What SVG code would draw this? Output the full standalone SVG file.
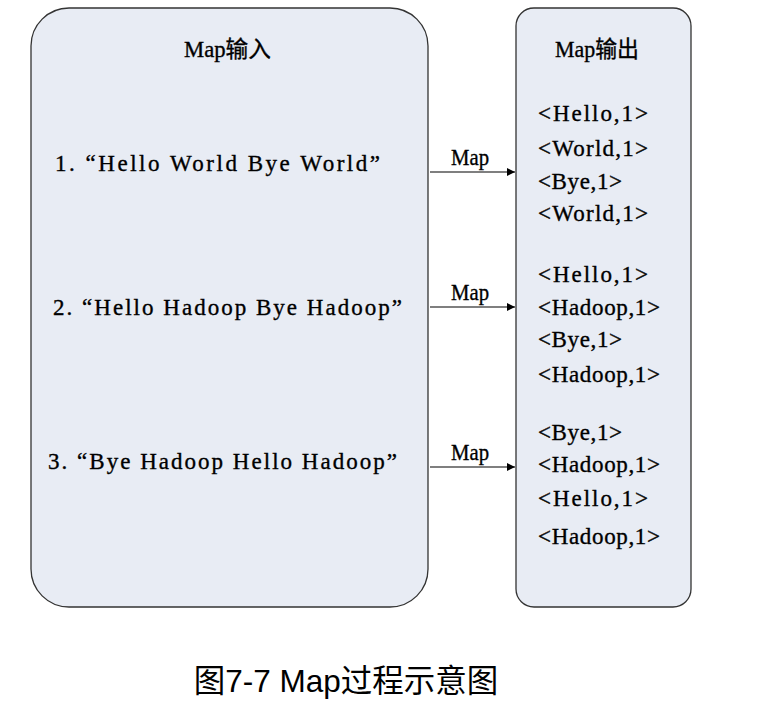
<svg xmlns="http://www.w3.org/2000/svg" width="768" height="707" viewBox="0 0 768 707">
<defs>
<style>
.box{fill:#e8ecf4;stroke:#333;stroke-width:1.3}
.t{font-family:"Liberation Serif","Noto Sans CJK SC",serif;font-size:23px;fill:#000;stroke:#000;stroke-width:0.35}
.h{font-family:"Liberation Serif","Noto Sans CJK SC",serif;font-size:23px;fill:#000;stroke:#000;stroke-width:0.35}
.lbl{font-family:"Liberation Serif",serif;font-size:23px;fill:#000;stroke:#000;stroke-width:0.35}
.cap{font-family:"Liberation Sans","Noto Sans CJK SC",sans-serif;font-size:31.5px;fill:#000;text-anchor:middle}
.conn{stroke:#000;stroke-width:1.2;fill:none}
</style>
<marker id="arr" viewBox="0 0 10 10" refX="10" refY="5" markerWidth="8" markerHeight="8" markerUnits="userSpaceOnUse" orient="auto">
<path d="M0,0 L10,5 L0,10 z" fill="#000"/>
</marker>
</defs>
<rect width="768" height="707" fill="#fff"/>
<g id="map-input">
<rect class="box" x="31" y="8" width="397" height="599" rx="38" ry="38"/>
<text class="h" x="184" y="57" textLength="87" lengthAdjust="spacingAndGlyphs">Map输入</text>
<text class="t" x="55" y="171" textLength="325" lengthAdjust="spacing">1. “Hello World Bye World”</text>
<text class="t" x="53" y="315" textLength="349" lengthAdjust="spacing">2. “Hello Hadoop Bye Hadoop”</text>
<text class="t" x="48" y="469" textLength="349" lengthAdjust="spacing">3. “Bye Hadoop Hello Hadoop”</text>
</g>
<g id="map-output">
<rect class="box" x="516" y="8" width="175" height="599" rx="18" ry="18"/>
<text class="h" x="555" y="57" textLength="84" lengthAdjust="spacingAndGlyphs">Map输出</text>
<text class="t" x="538" y="121" textLength="110" lengthAdjust="spacing">&lt;Hello,1&gt;</text>
<text class="t" x="538" y="156" textLength="110" lengthAdjust="spacing">&lt;World,1&gt;</text>
<text class="t" x="538" y="189" textLength="84" lengthAdjust="spacing">&lt;Bye,1&gt;</text>
<text class="t" x="538" y="221" textLength="110" lengthAdjust="spacing">&lt;World,1&gt;</text>
<text class="t" x="538" y="282" textLength="110" lengthAdjust="spacing">&lt;Hello,1&gt;</text>
<text class="t" x="538" y="315" textLength="122" lengthAdjust="spacing">&lt;Hadoop,1&gt;</text>
<text class="t" x="538" y="347" textLength="84" lengthAdjust="spacing">&lt;Bye,1&gt;</text>
<text class="t" x="538" y="382" textLength="122" lengthAdjust="spacing">&lt;Hadoop,1&gt;</text>
<text class="t" x="538" y="440" textLength="84" lengthAdjust="spacing">&lt;Bye,1&gt;</text>
<text class="t" x="538" y="472" textLength="122" lengthAdjust="spacing">&lt;Hadoop,1&gt;</text>
<text class="t" x="538" y="506" textLength="110" lengthAdjust="spacing">&lt;Hello,1&gt;</text>
<text class="t" x="538" y="544" textLength="122" lengthAdjust="spacing">&lt;Hadoop,1&gt;</text>
</g>
<g id="connectors">
<line class="conn" x1="430" y1="172" x2="515" y2="172" marker-end="url(#arr)"/>
<text class="lbl" x="451" y="165" textLength="38" lengthAdjust="spacingAndGlyphs">Map</text>
<line class="conn" x1="430" y1="307" x2="515" y2="307" marker-end="url(#arr)"/>
<text class="lbl" x="451" y="300" textLength="38" lengthAdjust="spacingAndGlyphs">Map</text>
<line class="conn" x1="430" y1="467" x2="515" y2="467" marker-end="url(#arr)"/>
<text class="lbl" x="451" y="460" textLength="38" lengthAdjust="spacingAndGlyphs">Map</text>
</g>
<g id="caption">
<text class="cap" x="346" y="692">图7-7 Map过程示意图</text>
</g>
</svg>
